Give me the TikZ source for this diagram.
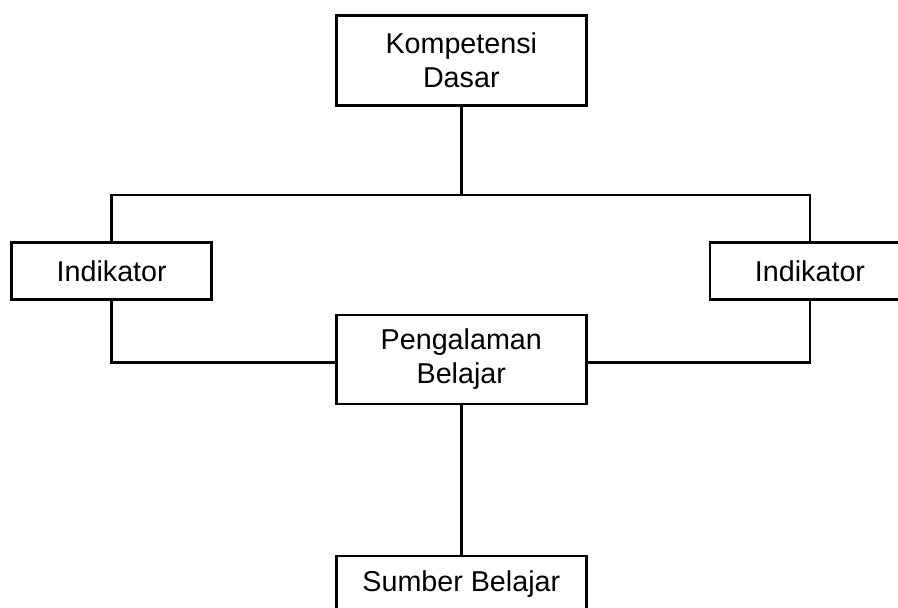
\documentclass[tikz,border=0pt]{standalone}
\usepackage{fontspec}
\setmainfont{Liberation Sans}
\begin{document}
\begin{tikzpicture}[x=1pt,y=-1pt,
  box/.style={draw=black,line width=2.6pt,fill=white,inner sep=0pt,align=center,
    font=\fontsize{28.7}{34}\selectfont},
  conn/.style={draw=black,line width=2.6pt}]
\useasboundingbox (0,0) rectangle (898,608);
\clip (0,0) rectangle (898,608);
\node[box,minimum width=250,minimum height=90] (kd) at (461.3,60.5) {Kompetensi\\Dasar};
\node[box,minimum width=200,minimum height=57] (li) at (111.7,271) {Indikator};
\node[box,minimum width=200,minimum height=57] (ri) at (810,271) {Indikator};
\node[box,minimum width=250,minimum height=89] (pb) at (461.3,359.5) {Pengalaman\\Belajar};
\node[box,minimum width=250,minimum height=56] (sb) at (461.3,584) {Sumber Belajar};
\coordinate (j) at (461.3,195);
\draw[conn] (kd.south) -- (j);
\draw[conn] (li.north) |- (j) -| (ri.north);
\draw[conn] (li.south) |- ([yshift=-3pt]pb.west);
\draw[conn] (ri.south) |- ([yshift=-3pt]pb.east);
\draw[conn] (pb.south) -- (sb.north);
\end{tikzpicture}
\end{document}
